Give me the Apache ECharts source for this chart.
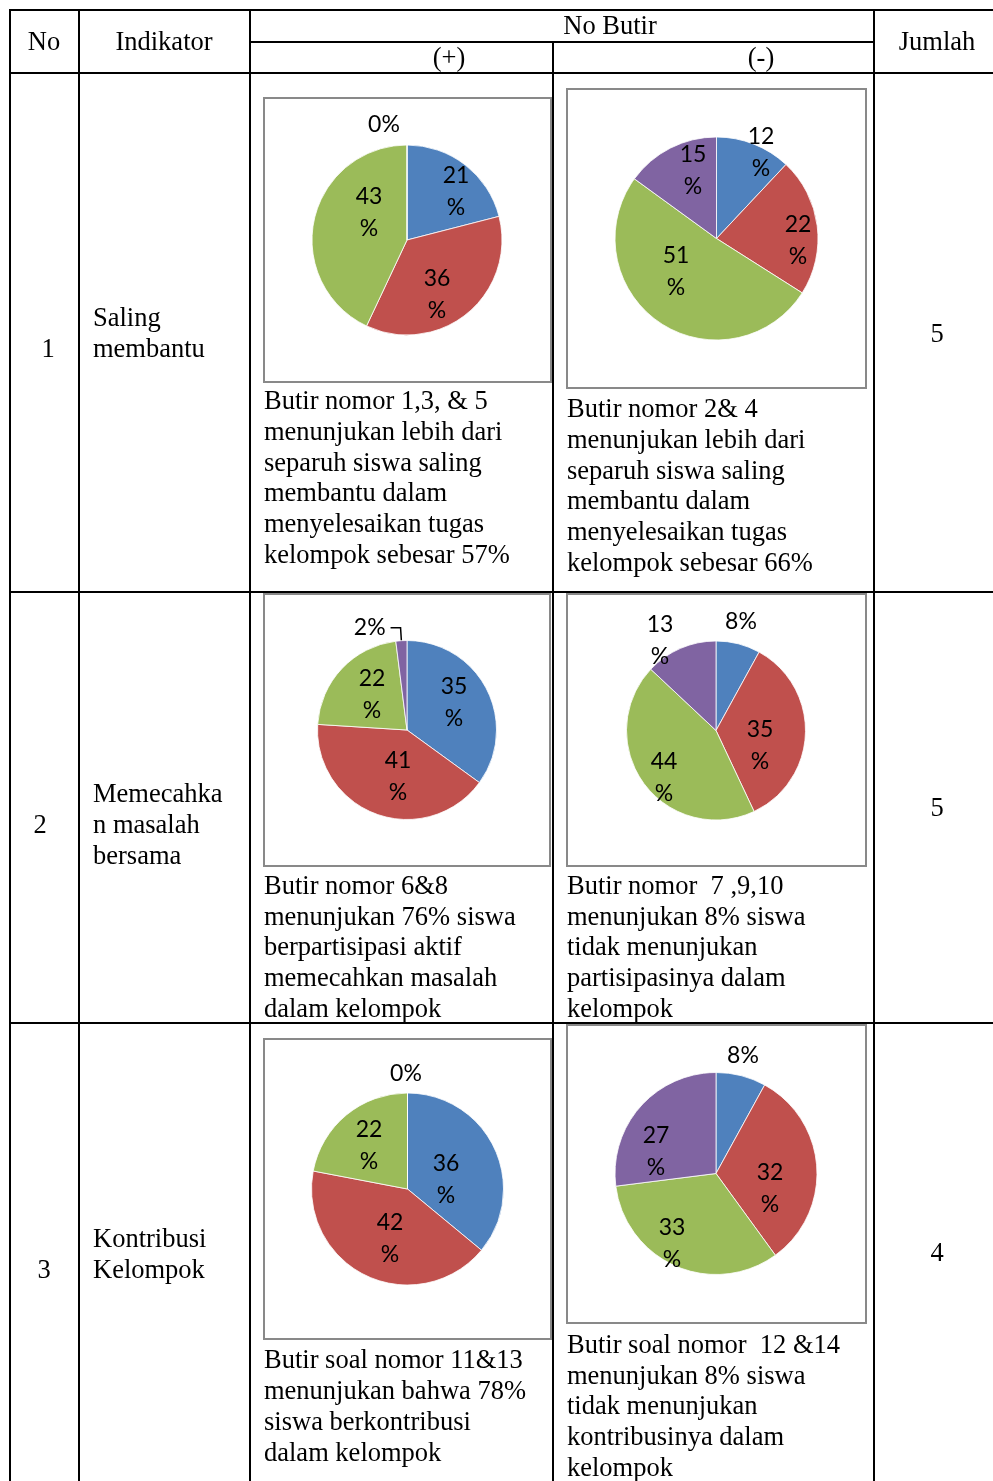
<!DOCTYPE html>
<html>
<head>
<meta charset="utf-8">
<title>Indikator Kerjasama Kelompok</title>
<script src="https://cdn.jsdelivr.net/npm/echarts@6/dist/echarts.min.js"></script>
<style>
  html, body { margin: 0; padding: 0; background: #ffffff; }
  #chart { width: 993px; height: 1481px; }
</style>
</head>
<body>
<div id="chart"></div>
<script>
// ---- Data -------------------------------------------------------------
// Slice order (clockwise from 12 o'clock): blue, red, green, purple
const sliceNames = ['Kategori 1', 'Kategori 2', 'Kategori 3', 'Kategori 4'];

const saling_plus   = [21, 36, 43, 0];
const saling_minus  = [12, 22, 51, 15];
const masalah_plus  = [35, 41, 22, 2];
const masalah_minus = [8, 35, 44, 13];
const kontrib_plus  = [36, 42, 22, 0];
const kontrib_minus = [8, 32, 33, 27];

const headerNo = 'No';
const headerIndikator = 'Indikator';
const headerButir = 'No Butir';
const headerPlus = '(+)';
const headerMinus = '(-)';
const headerJumlah = 'Jumlah';

const rowNumbers = ['1', '2', '3'];
const indikator = [
  ['Saling', 'membantu'],
  ['Memecahka', 'n masalah', 'bersama'],
  ['Kontribusi', 'Kelompok']
];
const jumlah = ['5', '5', '4'];

const notesPlus = [
  ['Butir nomor 1,3, & 5', 'menunjukan lebih dari', 'separuh siswa saling', 'membantu dalam', 'menyelesaikan tugas', 'kelompok sebesar 57%'],
  ['Butir nomor 6&8', 'menunjukan 76% siswa', 'berpartisipasi aktif', 'memecahkan masalah', 'dalam kelompok'],
  ['Butir soal nomor 11&13', 'menunjukan bahwa 78%', 'siswa berkontribusi', 'dalam kelompok']
];
const notesMinus = [
  ['Butir nomor 2& 4', 'menunjukan lebih dari', 'separuh siswa saling', 'membantu dalam', 'menyelesaikan tugas', 'kelompok sebesar 66%'],
  ['Butir nomor  7 ,9,10', 'menunjukan 8% siswa', 'tidak menunjukan', 'partisipasinya dalam', 'kelompok'],
  ['Butir soal nomor  12 &14', 'menunjukan 8% siswa', 'tidak menunjukan', 'kontribusinya dalam', 'kelompok']
];

// ---- Layout & style ------------------------------------------------------
const COLORS = ['#4F81BD', '#C0504D', '#9BBB59', '#8064A2'];
const SERIF = '"Liberation Serif", "Times New Roman", serif';
const SANS = 'Lato, "Open Sans", sans-serif';
const TXT = 26.5, LH = 30.8;

// table grid
const X = [10, 79, 250, 553, 874, 993];
const Y_TOP = 10, Y_SUB = 42, Y_HEAD = 73, Y_R1 = 592, Y_R2 = 1023, Y_END = 1481;

// each pie: center, radius and its chart frame
const PIES = [
  { data: saling_plus,   cx: 407,   cy: 240,   r: 95,    box: [264, 98, 287, 284] },
  { data: saling_minus,  cx: 716.5, cy: 238.5, r: 101.5, box: [567, 89, 299, 299] },
  { data: masalah_plus,  cx: 407,   cy: 730,   r: 89.5,  box: [264, 594, 286, 272] },
  { data: masalah_minus, cx: 716,   cy: 730.5, r: 89.5,  box: [567, 594, 299, 272] },
  { data: kontrib_plus,  cx: 407.5, cy: 1189,  r: 96,    box: [264, 1039, 287, 300] },
  { data: kontrib_minus, cx: 716,   cy: 1173.5, r: 101,  box: [567, 1025, 299, 298] }
];

// data-label placement, offset from each pie's center (null = leader-line label)
const LABEL_NUDGE = [
  [[49, -48], [30, 55], [-38, -27], [-23, -115]],
  [[44.5, -86], [81.5, 2.5], [-40.5, 33], [-23.5, -68]],
  [[47, -27.5], [-9, 47], [-35, -35.5], null],
  [[25, -108.5], [44, 15.5], [-52, 47.5], [-56, -89.5]],
  [[38.5, -9], [-17.5, 50], [-38.5, -43], [-1.5, -115]],
  [[27, -117.5], [54, 15], [-44, 70.5], [-60, -21.5]]
];

// ---- Graphic helpers -----------------------------------------------------
const graphics = [];
function line(x1, y1, x2, y2) {
  graphics.push({
    type: 'line', z: 50, silent: true,
    shape: { x1, y1, x2, y2 },
    style: { stroke: '#000', lineWidth: 2 }
  });
}
function text(str, x, y, align) {
  graphics.push({
    type: 'text', z: 50, silent: true, x, y: y + 1,
    style: {
      text: str, font: TXT + 'px ' + SERIF, fill: '#000',
      align: align || 'center', verticalAlign: 'middle', lineHeight: LH
    }
  });
}

// table rules
line(X[0], Y_TOP, X[5], Y_TOP);
line(X[2], Y_SUB, X[4], Y_SUB);
line(X[0], Y_HEAD, X[5], Y_HEAD);
line(X[0], Y_R1, X[5], Y_R1);
line(X[0], Y_R2, X[5], Y_R2);
line(X[0], Y_TOP - 1, X[0], Y_END);
line(X[1], Y_TOP - 1, X[1], Y_END);
line(X[2], Y_TOP - 1, X[2], Y_END);
line(X[3], Y_SUB, X[3], Y_END);
line(X[4], Y_TOP - 1, X[4], Y_END);

// chart frames
PIES.forEach(p => {
  graphics.push({
    type: 'rect', z: 0, silent: true,
    shape: { x: p.box[0], y: p.box[1], width: p.box[2], height: p.box[3] },
    style: { fill: '#fff', stroke: '#898989', lineWidth: 2 }
  });
});

// header texts
text(headerNo, 44, 42);
text(headerIndikator, 164, 42);
text(headerButir, 610, 26);
text(headerPlus, 449, 58);
text(headerMinus, 761, 58);
text(headerJumlah, 937, 42);

// row texts
const noPos = [[48, 349], [40, 825], [44, 1270]];
const indY = [333.5, 825, 1254.5];
const jumY = [334, 808, 1253];
const plusY = [478, 947.5, 1406.5];
const minusY = [486, 947.5, 1406.5];
for (let i = 0; i < 3; i++) {
  text(rowNumbers[i], noPos[i][0], noPos[i][1]);
  text(indikator[i].join('\n'), 93, indY[i], 'left');
  text(jumlah[i], 937, jumY[i]);
  text(notesPlus[i].join('\n'), 264, plusY[i], 'left');
  text(notesMinus[i].join('\n'), 567, minusY[i], 'left');
}

// ---- Pie series ------------------------------------------------------------
const series = PIES.map((p, s) => ({
  type: 'pie',
  z: 10,
  center: [p.cx, p.cy],
  radius: [0, p.r],
  startAngle: 90,
  clockwise: true,
  avoidLabelOverlap: false,
  silent: true,
  itemStyle: { borderColor: '#ffffff', borderWidth: 0.8 },
  label: {
    show: true,
    position: 'inside',
    color: '#000',
    fontFamily: SANS,
    fontSize: 23,
    lineHeight: 32,
    formatter: prm => (prm.value < 10 ? prm.value + '%' : prm.value + '\n%')
  },
  labelLine: { show: false },
  labelLayout: prm => {
    const n = LABEL_NUDGE[s][prm.dataIndex];
    if (!n) return {};
    return { x: p.cx + n[0], y: p.cy + n[1], align: 'center', verticalAlign: 'middle' };
  },
  data: p.data.map((v, i) => {
    const item = { name: sliceNames[i], value: v, itemStyle: { color: COLORS[i] } };
    if (!LABEL_NUDGE[s][i]) {
      item.label = { position: 'outside', lineHeight: 16 };
      item.labelLine = { show: true, length: 13, length2: 10, smooth: false,
        lineStyle: { color: '#000', width: 1.5 } };
    }
    return item;
  })
}));

const chart = echarts.init(document.getElementById('chart'), null, { renderer: 'canvas' });
chart.setOption({
  backgroundColor: '#ffffff',
  animation: false,
  graphic: { elements: graphics },
  series: series
});
</script>
</body>
</html>
